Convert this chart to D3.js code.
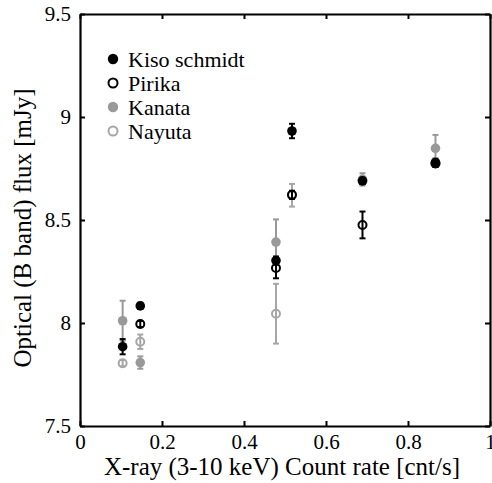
<!DOCTYPE html>
<html><head><meta charset="utf-8">
<script src="https://cdn.jsdelivr.net/npm/d3@7"></script>
<style>body{margin:0;background:#fff}svg{display:block}text{font-family:"Liberation Serif","Times New Roman",serif;fill:#000}</style>
</head><body><svg id="c" width="492" height="483"></svg>
<script>
const xTicks = [0, 0.2, 0.4, 0.6, 0.8, 1];
const xTickLabels = ["0", "0.2", "0.4", "0.6", "0.8", "1"];
const yTicks = [7.5, 8, 8.5, 9, 9.5];
const yTickLabels = ["7.5", "8", "8.5", "9", "9.5"];

const seriesNames = ["Kiso schmidt", "Pirika", "Kanata", "Nayuta"];

const kisoX = [0.104, 0.147, 0.478, 0.517, 0.689, 0.867];
const kisoY = [7.885, 8.083, 8.303, 8.932, 8.690, 8.778];
const kisoErr = [0.037, 0.015, 0.02, 0.035, 0.015, 0.02];

const pirikaX = [0.147, 0.478, 0.517, 0.689, 0.867];
const pirikaY = [7.995, 8.267, 8.622, 8.476, 8.774];
const pirikaErr = [0.015, 0.05, 0.02, 0.065, 0.015];

const kanataX = [0.104, 0.147, 0.478, 0.689, 0.867];
const kanataY = [8.011, 7.808, 8.393, 8.697, 8.848];
const kanataErr = [0.097, 0.03, 0.11, 0.03, 0.065];

const nayutaX = [0.104, 0.147, 0.478, 0.517, 0.689, 0.867];
const nayutaY = [7.805, 7.909, 8.045, 8.62, 8.69, 8.775];
const nayutaErr = [0.015, 0.035, 0.145, 0.055, 0.015, 0.015];

const styles = {
  "Kiso schmidt": {fill: "#000", stroke: "#000"},
  "Pirika": {fill: "none", stroke: "#000"},
  "Kanata": {fill: "#999", stroke: "#999"},
  "Nayuta": {fill: "none", stroke: "#a6a6a6"}
};
const series = {
  "Kiso schmidt": [kisoX, kisoY, kisoErr],
  "Pirika": [pirikaX, pirikaY, pirikaErr],
  "Kanata": [kanataX, kanataY, kanataErr],
  "Nayuta": [nayutaX, nayutaY, nayutaErr]
};
const drawOrder = ["Nayuta", "Kanata", "Kiso schmidt", "Pirika"];

const L = 80, R = 490, T = 14, B = 426;
const xs = d3.scaleLinear().domain([0, 1]).range([L, R]);
const ys = d3.scaleLinear().domain([7.5, 9.5]).range([B, T]);
const svg = d3.select("#c");

// Data
drawOrder.forEach(name => {
  const [xv, yv, ev] = series[name];
  const st = styles[name];
  const g = svg.append("g");
  const pts = xv.map((v, i) => ({x: v, y: yv[i], e: ev[i]}));
  const eg = g.selectAll("g.e").data(pts).enter().append("g")
    .attr("stroke", st.stroke).attr("stroke-width", 2);
  eg.append("line").attr("x1", d => xs(d.x)).attr("x2", d => xs(d.x))
    .attr("y1", d => ys(d.y - d.e)).attr("y2", d => ys(d.y + d.e));
  eg.append("line").attr("x1", d => xs(d.x) - 3).attr("x2", d => xs(d.x) + 3)
    .attr("y1", d => ys(d.y + d.e)).attr("y2", d => ys(d.y + d.e));
  eg.append("line").attr("x1", d => xs(d.x) - 3).attr("x2", d => xs(d.x) + 3)
    .attr("y1", d => ys(d.y - d.e)).attr("y2", d => ys(d.y - d.e));
  g.selectAll("circle").data(pts).enter().append("circle")
    .attr("cx", d => xs(d.x)).attr("cy", d => ys(d.y))
    .attr("r", st.fill === "none" ? 4 : 4.8)
    .attr("fill", st.fill).attr("stroke", st.stroke)
    .attr("stroke-width", st.fill === "none" ? 2 : 0);
});

// Axes (ticks inward on all sides)
const tickLen = 5;
const axB = d3.axisBottom(xs).tickValues(xTicks).tickSizeInner(-tickLen).tickSizeOuter(0).tickPadding(8)
  .tickFormat((d, i) => xTickLabels[i]);
const axT = d3.axisTop(xs).tickValues(xTicks).tickSizeInner(-tickLen).tickSizeOuter(0).tickFormat("");
const axL = d3.axisLeft(ys).tickValues(yTicks).tickSizeInner(-tickLen).tickSizeOuter(0).tickPadding(9)
  .tickFormat((d, i) => yTickLabels[i]);
const axR = d3.axisRight(ys).tickValues(yTicks).tickSizeInner(-tickLen).tickSizeOuter(0).tickFormat("");

function styleAxis(g) {
  g.attr("font-family", null);
  g.select(".domain").attr("stroke", "#000").attr("stroke-width", 2.2);
  g.selectAll(".tick line").attr("stroke", "#000").attr("stroke-width", 2);
  g.selectAll(".tick text").style("font-family", '"Liberation Serif", serif').style("font-size", "21px").attr("fill", "#000");
}
svg.append("g").attr("transform", `translate(0,${B})`).call(axB).call(styleAxis);
svg.append("g").attr("transform", `translate(0,${T})`).call(axT).call(styleAxis);
svg.append("g").attr("transform", `translate(${L},0)`).call(axL).call(styleAxis);
svg.append("g").attr("transform", `translate(${R},0)`).call(axR).call(styleAxis);

// Axis titles
svg.append("text").attr("x", 282).attr("y", 475).attr("text-anchor", "middle")
  .style("font-size", "25px").text("X-ray (3-10 keV) Count rate [cnt/s]");
svg.append("text").attr("transform", "translate(31,228) rotate(-90)").attr("text-anchor", "middle")
  .style("font-size", "25px").text("Optical (B band) flux [mJy]");

// Legend
const lg = svg.append("g");
seriesNames.forEach((name, i) => {
  const st = styles[name];
  const cy = 59 + i * 24;
  lg.append("circle").attr("cx", 113).attr("cy", cy).attr("r", st.fill === "none" ? 4.5 : 5.2)
    .attr("fill", st.fill).attr("stroke", st.stroke).attr("stroke-width", st.fill === "none" ? 2 : 0);
  lg.append("text").attr("x", 128).attr("y", cy + 7.5).style("font-size", "22px").text(name);
});
</script></body></html>
